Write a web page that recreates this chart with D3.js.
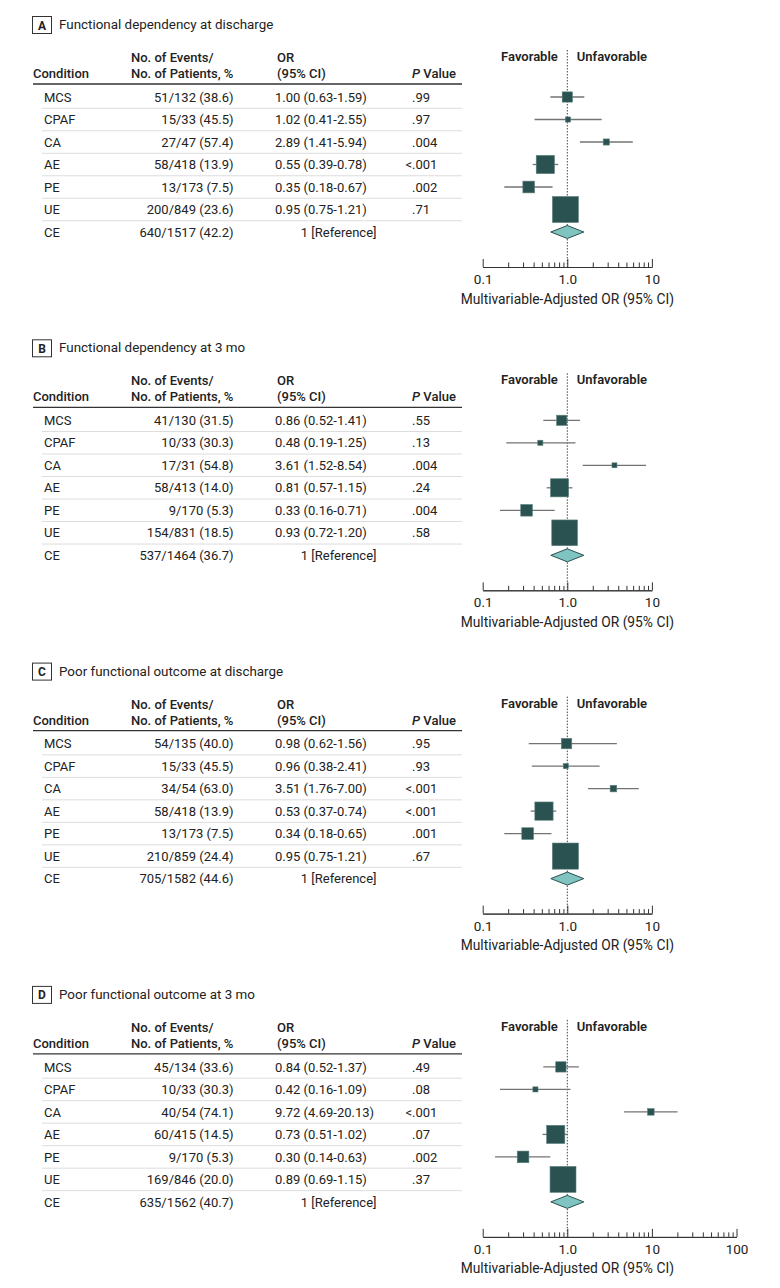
<!DOCTYPE html>
<html>
<head>
<meta charset="utf-8">
<script src="https://cdn.jsdelivr.net/npm/d3@7"></script>
<style>
  body { margin: 0; background: #fff; }
  svg { display: block; font-family: Roboto, "Noto Sans", sans-serif; }
</style>
</head>
<body>
<svg id="chart" width="780" height="1288"></svg>
<script>
// rows, same for every panel
var conditions = ["MCS", "CPAF", "CA", "AE", "PE", "UE", "CE"];
var letters = ["A", "B", "C", "D"];
var titles = ["Functional dependency at discharge", "Functional dependency at 3 mo",
  "Poor functional outcome at discharge", "Poor functional outcome at 3 mo"];

// A
var eventsA = ["51/132 (38.6)", "15/33 (45.5)", "27/47 (57.4)", "58/418 (13.9)", "13/173 (7.5)", "200/849 (23.6)", "640/1517 (42.2)"];
var patientsA = [132, 33, 47, 418, 173, 849, 1517];
var orTextA = ["1.00 (0.63-1.59)", "1.02 (0.41-2.55)", "2.89 (1.41-5.94)", "0.55 (0.39-0.78)", "0.35 (0.18-0.67)", "0.95 (0.75-1.21)", "1 [Reference]"];
var pA = [".99", ".97", ".004", "<.001", ".002", ".71", ""];
var orA = [1.00, 1.02, 2.89, 0.55, 0.35, 0.95, 1];
var loA = [0.63, 0.41, 1.41, 0.39, 0.18, 0.75, null];
var hiA = [1.59, 2.55, 5.94, 0.78, 0.67, 1.21, null];

// B
var eventsB = ["41/130 (31.5)", "10/33 (30.3)", "17/31 (54.8)", "58/413 (14.0)", "9/170 (5.3)", "154/831 (18.5)", "537/1464 (36.7)"];
var patientsB = [130, 33, 31, 413, 170, 831, 1464];
var orTextB = ["0.86 (0.52-1.41)", "0.48 (0.19-1.25)", "3.61 (1.52-8.54)", "0.81 (0.57-1.15)", "0.33 (0.16-0.71)", "0.93 (0.72-1.20)", "1 [Reference]"];
var pB = [".55", ".13", ".004", ".24", ".004", ".58", ""];
var orB = [0.86, 0.48, 3.61, 0.81, 0.33, 0.93, 1];
var loB = [0.52, 0.19, 1.52, 0.57, 0.16, 0.72, null];
var hiB = [1.41, 1.25, 8.54, 1.15, 0.71, 1.20, null];

// C  (MCS whisker is drawn wider in the figure than the table says)
var eventsC = ["54/135 (40.0)", "15/33 (45.5)", "34/54 (63.0)", "58/418 (13.9)", "13/173 (7.5)", "210/859 (24.4)", "705/1582 (44.6)"];
var patientsC = [135, 33, 54, 418, 173, 859, 1582];
var orTextC = ["0.98 (0.62-1.56)", "0.96 (0.38-2.41)", "3.51 (1.76-7.00)", "0.53 (0.37-0.74)", "0.34 (0.18-0.65)", "0.95 (0.75-1.21)", "1 [Reference]"];
var pC = [".95", ".93", "<.001", "<.001", ".001", ".67", ""];
var orC = [0.98, 0.96, 3.51, 0.53, 0.34, 0.95, 1];
var loC = [0.35, 0.38, 1.76, 0.37, 0.18, 0.75, null];
var hiC = [3.85, 2.41, 7.00, 0.74, 0.65, 1.21, null];

// D
var eventsD = ["45/134 (33.6)", "10/33 (30.3)", "40/54 (74.1)", "60/415 (14.5)", "9/170 (5.3)", "169/846 (20.0)", "635/1562 (40.7)"];
var patientsD = [134, 33, 54, 415, 170, 846, 1562];
var orTextD = ["0.84 (0.52-1.37)", "0.42 (0.16-1.09)", "9.72 (4.69-20.13)", "0.73 (0.51-1.02)", "0.30 (0.14-0.63)", "0.89 (0.69-1.15)", "1 [Reference]"];
var pD = [".49", ".08", "<.001", ".07", ".002", ".37", ""];
var orD = [0.84, 0.42, 9.72, 0.73, 0.30, 0.89, 1];
var loD = [0.52, 0.16, 4.69, 0.51, 0.14, 0.69, null];
var hiD = [1.37, 1.09, 20.13, 1.02, 0.63, 1.15, null];

var axisMax = [10, 10, 10, 100];
var tickValues = [0.1, 1, 10, 100];
var tickLabels = ["0.1", "1.0", "10", "100"];

var panels = [
  {events: eventsA, n: patientsA, orText: orTextA, p: pA, or: orA, lo: loA, hi: hiA},
  {events: eventsB, n: patientsB, orText: orTextB, p: pB, or: orB, lo: loB, hi: hiB},
  {events: eventsC, n: patientsC, orText: orTextC, p: pC, or: orC, lo: loC, hi: hiC},
  {events: eventsD, n: patientsD, orText: orTextD, p: pD, or: orD, lo: loD, hi: hiD}
];

var svg = d3.select("#chart");
var panelStep = 323.3;
var rowY = d3.scaleLinear().domain([0, 1]).range([97, 119.5]);
var boxSide = d3.scaleSqrt().domain([0, 849]).range([0, 26]);
var dark = "#2a5250", light = "#7fc4c0", txt = "#222";

panels.forEach(function(d, pi) {
  var g = svg.append("g").attr("transform", "translate(0," + (pi * panelStep) + ")");
  var decades = Math.log10(axisMax[pi] / 0.1);
  var x = d3.scaleLog().domain([0.1, axisMax[pi]]).range([482.7, 482.7 + 84.6 * decades]);
  var last = conditions.length - 1;

  // title
  g.append("rect").attr("x", 32.5).attr("y", 16.5).attr("width", 19).attr("height", 17)
    .attr("fill", "none").attr("stroke", "#333").attr("stroke-width", 1);
  g.append("text").attr("x", 42).attr("y", 29.5).attr("text-anchor", "middle")
    .attr("font-size", 12).attr("font-weight", 700).attr("fill", txt).text(letters[pi]);
  g.append("text").attr("x", 59).attr("y", 29).attr("font-size", 13.4).attr("fill", txt).text(titles[pi]);

  // header
  var head = g.append("g").attr("font-size", 13).attr("font-weight", 500).attr("fill", txt);
  head.append("text").attr("x", 33).attr("y", 78).text("Condition");
  head.append("text").attr("x", 131).attr("y", 62).text("No. of Events/");
  head.append("text").attr("x", 131).attr("y", 78).text("No. of Patients, %");
  head.append("text").attr("x", 277).attr("y", 62).text("OR");
  head.append("text").attr("x", 277).attr("y", 78).text("(95% CI)");
  var pv = head.append("text").attr("x", 412).attr("y", 78);
  pv.append("tspan").attr("font-style", "italic").text("P");
  pv.append("tspan").text(" Value");
  g.append("line").attr("x1", 33).attr("x2", 462).attr("y1", 84).attr("y2", 84)
    .attr("stroke", "#333").attr("stroke-width", 1.3);

  // row separators
  g.selectAll("line.sep").data(d3.range(last)).enter().append("line")
    .attr("class", "sep")
    .attr("x1", 42).attr("x2", 462)
    .attr("y1", function(i) { return rowY(i + 0.5); })
    .attr("y2", function(i) { return rowY(i + 0.5); })
    .attr("stroke", "#dcdcdc").attr("stroke-width", 1);

  // table rows
  var rows = g.selectAll("g.row").data(conditions).enter().append("g")
    .attr("class", "row")
    .attr("transform", function(c, i) { return "translate(0," + (rowY(i) + 4.6) + ")"; })
    .attr("font-size", 13).attr("fill", txt);
  rows.append("text").attr("x", 44).text(function(c) { return c; });
  rows.append("text").attr("x", 233.5).attr("text-anchor", "end")
    .text(function(c, i) { return d.events[i]; });
  rows.append("text")
    .attr("x", function(c, i) { return i === last ? 376.5 : 275; })
    .attr("text-anchor", function(c, i) { return i === last ? "end" : "start"; })
    .text(function(c, i) { return d.orText[i]; });
  rows.each(function(c, i) {
    var s = d.p[i];
    if (!s) return;
    var r = d3.select(this);
    if (s.charAt(0) === "<") {
      r.append("text").attr("x", 412).attr("text-anchor", "end").text("<");
      s = s.slice(1);
    }
    r.append("text").attr("x", 412).text(s);
  });

  // forest plot
  var x1 = x(1);
  g.append("line").attr("x1", x1).attr("x2", x1).attr("y1", 50).attr("y2", 267)
    .attr("stroke", "#444").attr("stroke-width", 1).attr("stroke-dasharray", "1.5,1.5");
  g.append("text").attr("x", x1 - 9.5).attr("y", 61).attr("text-anchor", "end")
    .attr("font-size", 13).attr("font-weight", 600).attr("fill", txt).text("Favorable");
  g.append("text").attr("x", x1 + 9.5).attr("y", 61)
    .attr("font-size", 13).attr("font-weight", 600).attr("fill", txt).text("Unfavorable");

  var est = d3.range(last);
  g.selectAll("line.ci").data(est).enter().append("line")
    .attr("class", "ci")
    .attr("x1", function(i) { return x(d.lo[i]); })
    .attr("x2", function(i) { return x(d.hi[i]); })
    .attr("y1", function(i) { return rowY(i); })
    .attr("y2", function(i) { return rowY(i); })
    .attr("stroke", "#737373").attr("stroke-width", 1.3);
  g.selectAll("rect.box").data(est).enter().append("rect")
    .attr("class", "box")
    .attr("x", function(i) { return x(d.or[i]) - boxSide(d.n[i]) / 2; })
    .attr("y", function(i) { return rowY(i) - boxSide(d.n[i]) / 2; })
    .attr("width", function(i) { return boxSide(d.n[i]); })
    .attr("height", function(i) { return boxSide(d.n[i]); })
    .attr("fill", dark).attr("stroke", "#5d807e").attr("stroke-width", 0.6);

  // reference diamond
  var cy = rowY(last), dx = 16.5, dy = 6.5;
  g.append("path")
    .attr("d", "M" + (x(d.or[last]) - dx) + "," + cy + "L" + x(d.or[last]) + "," + (cy - dy) +
      "L" + (x(d.or[last]) + dx) + "," + cy + "L" + x(d.or[last]) + "," + (cy + dy) + "Z")
    .attr("fill", light).attr("stroke", dark).attr("stroke-width", 1);

  // axis
  var majors = tickValues.filter(function(v) { return v <= axisMax[pi]; });
  var minors = x.ticks().filter(function(v) { return majors.indexOf(v) < 0; });
  var ax = g.append("g").attr("transform", "translate(0,267)");
  ax.append("g").call(d3.axisBottom(x).tickValues(minors).tickSize(-4.5).tickSizeOuter(0).tickFormat(""));
  ax.append("g").call(d3.axisBottom(x).tickValues(majors).tickSize(-8).tickSizeOuter(0).tickPadding(7.5)
    .tickFormat(function(v) { return tickLabels[tickValues.indexOf(v)]; }));
  ax.selectAll("path.domain").attr("stroke", "#333");
  ax.selectAll(".tick line").attr("stroke", "#333");
  ax.selectAll("text").attr("font-size", 13.5).attr("fill", txt).attr("font-family", "Roboto, 'Noto Sans', sans-serif");

  g.append("text").attr("x", x1).attr("y", 303.5).attr("text-anchor", "middle")
    .attr("font-size", 13.8).attr("fill", txt).text("Multivariable-Adjusted OR (95% CI)");
});
</script>
</body>
</html>
